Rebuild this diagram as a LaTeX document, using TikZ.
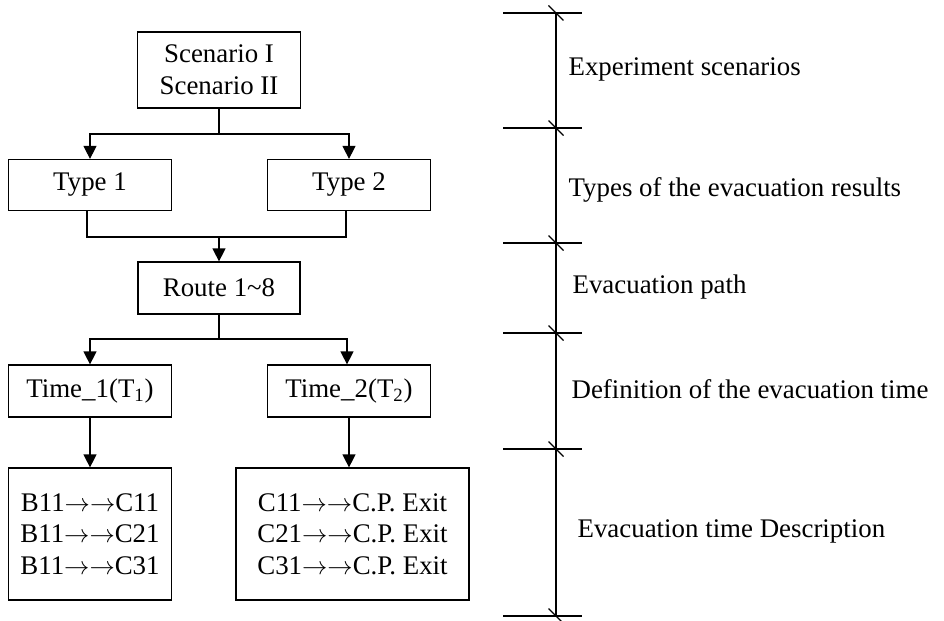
\documentclass[tikz,border=0pt]{standalone}
\usepackage{fontspec}
\setmainfont{Liberation Serif}
\usetikzlibrary{arrows.meta}
\usetikzlibrary{positioning}

\newcommand{\dto}{\(\rightarrow\rightarrow\)}

\begin{document}
\begin{tikzpicture}[x=0.02cm, y=-0.02cm, line width=0.7pt,
			font=\fontsize{15.3}{18}\selectfont,
			box/.style={draw, align=center, inner sep=0pt, minimum width=3.26cm},
			arr/.style={-{Triangle[length=0.26cm, width=0.26cm]}},
			lbl/.style={anchor=west, inner sep=0pt}]

		\useasboundingbox (0,0) rectangle (944,621);

		% flow chart
		\node[box, minimum height=1.52cm] (scen) at (219,70) {Scenario I\\Scenario II};
		\node[box, minimum height=1.02cm] (type1) at (90,185) {Type 1};
		\node[box, minimum height=1.02cm] (type2) at (349,185) {Type 2};
		\node[box, minimum width=3.24cm, minimum height=1.04cm] (route) at (219,288) {Route 1\textasciitilde 8};
		\node[box, minimum height=1.04cm] (time1) at (90,391) {Time\_1(T\textsubscript{1})};
		\node[box, minimum height=1.04cm] (time2) at (349,391) {Time\_2(T\textsubscript{2})};
		\node[box, minimum height=2.64cm] (desc1) at (90,534) {B11\dto C11\\B11\dto C21\\B11\dto C31};
		\node[box, minimum width=4.66cm, minimum height=2.64cm] (desc2) at (352.5,534) {C11\dto C.P. Exit\\C21\dto C.P. Exit\\C31\dto C.P. Exit};

		\coordinate (split1) at (219,134);
		\coordinate (merge) at (219,237);
		\coordinate (split2) at (219,339);

		\draw (scen) -- (split1);
		\draw[arr] (split1) -| (type1.north);
		\draw[arr] (split1) -| (type2.north);
		\draw ([xshift=-0.06cm]type1.south) |- (merge) -| ([xshift=-0.06cm]type2.south);
		\draw[arr] (merge) -- (route.north);
		\draw (route) -- (split2);
		\draw[arr] (split2) -| (time1.north);
		\draw[arr] (split2) -| ([xshift=-0.04cm]time2.north);
		\draw[arr] (time1) -- (time1.south |- desc1.north);
		\draw[arr] (time2) -- (time2.south |- desc2.north);

		% scale on the right
		\foreach \y [count=\i] in {13,128,243,333,449,616} {
			\coordinate (t\i) at (556,\y);
			\draw (503,\y) -- (582,\y);
			\draw ([shift={(-7.5,-7.5)}]t\i) -- ([shift={(7.5,7.5)}]t\i);
		}
		\draw (t1) -- (t6);

		\node[lbl] (lab1) at (568,69) {Experiment scenarios};
		\node[lbl] (lab2) at (568,190) {Types of the evacuation results};
		\node[lbl] (lab3) at (572,287) {Evacuation path};
		\node[lbl] (lab4) at (571,389) {Definition of the evacuation time};
		\node[lbl] (lab5) at (577,531) {Evacuation time Description};
	\end{tikzpicture}
\end{document}
